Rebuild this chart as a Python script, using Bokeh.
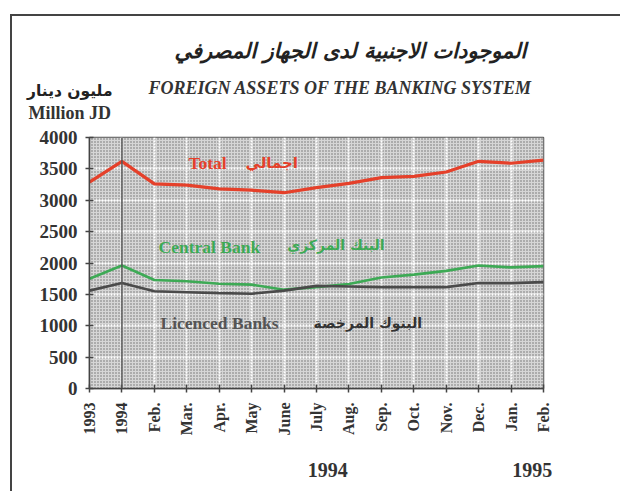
import math
from bokeh.plotting import figure
from bokeh.models import Range1d, FixedTicker, Label, Span, LinearAxis, Spacer
from bokeh.layouts import column, row
from bokeh.core.properties import value
from bokeh.embed import file_html
from bokeh.resources import INLINE

months = ["1993", "1994", "Feb.", "Mar.", "Apr.", "May", "June", "July",
          "Aug.", "Sep.", "Oct.", "Nov.", "Dec.", "Jan.", "Feb."]
total = [3290, 3620, 3260, 3240, 3180, 3160, 3120, 3200, 3270, 3360, 3380, 3450, 3620, 3590, 3640]
central_bank = [1750, 1960, 1730, 1710, 1670, 1655, 1575, 1615, 1665, 1770, 1815, 1875, 1960, 1930, 1950]
licenced_banks = [1560, 1680, 1550, 1535, 1520, 1510, 1560, 1635, 1625, 1615, 1615, 1615, 1680, 1680, 1695]
y_ticks = [0, 500, 1000, 1500, 2000, 2500, 3000, 3500, 4000]
year_labels = {7.35: "1994", 13.65: "1995"}

x = list(range(len(months)))
serif = "Liberation Serif"
arabic = "DejaVu Sans"
dark = "#444444"

# ---------- header figure (titles) ----------
top = figure(width=600, height=112, output_backend="svg", toolbar_location=None,
             x_range=Range1d(0, 600), y_range=Range1d(112, 0),
             x_axis_type=None, y_axis_type=None,
             min_border_left=0, min_border_right=0, min_border_top=0, min_border_bottom=0)
top.xgrid.visible = False
top.ygrid.visible = False
top.outline_line_color = None

def htext(xv, yv, text, size, color, align, style, font):
    top.text(x=[xv], y=[yv], text=[text], text_font=value(font), text_font_size=size,
             text_color=color, text_align=align, text_baseline="middle",
             text_font_style=style)

htext(338, 34, "الموجودات الاجنبية لدى الجهاز المصرفي", "21px", "#222", "center", "bold italic", arabic)
htext(136, 71, "FOREIGN ASSETS OF THE BANKING SYSTEM", "18px", "#333", "left", "bold italic", serif)
htext(100, 74, "مليون دينار", "15.5px", "#222", "right", "bold", arabic)
htext(16, 96, "Million JD", "18px", "#333", "left", "bold", serif)

# ---------- main chart ----------
p = figure(width=600, height=363, output_backend="svg", toolbar_location=None,
           x_range=Range1d(0, len(months) - 1), y_range=Range1d(0, 4000),
           min_border_left=77, min_border_right=69, min_border_top=9, min_border_bottom=103)
p.outline_line_color = "#555"
p.outline_line_width = 1.5
p.background_fill_color = "#bdbdbd"
p.border_fill_color = "white"

# stipple background
p.quad(left=[0], right=[len(months) - 1], bottom=[0], top=[4000], fill_color="#d6d6d6",
       line_color=None, hatch_pattern="dot", hatch_color="#6e6e6e", hatch_scale=3,
       hatch_weight=1.3, level="image")

for g in (p.xgrid, p.ygrid):
    g.grid_line_color = "white"
    g.grid_line_width = 2
    g.grid_line_dash = "2 1"
p.xgrid.ticker = FixedTicker(ticks=x)
p.ygrid.ticker = FixedTicker(ticks=y_ticks)

p.add_layout(Span(location=1, dimension="height", line_color="#555", line_width=1.5))

p.line(x, total, line_color="#e5402a", line_width=3.2)
p.line(x, central_bank, line_color="#3daa55", line_width=2.6)
p.line(x, licenced_banks, line_color="#4a4a4a", line_width=2.6)

p.xaxis.ticker = FixedTicker(ticks=x)
p.xaxis.major_label_overrides = {i: m for i, m in enumerate(months)}
p.xaxis.major_label_orientation = math.pi / 2
p.yaxis.ticker = FixedTicker(ticks=y_ticks)
for ax in (p.xaxis[0], p.yaxis[0]):
    ax.axis_line_color = dark
    ax.axis_line_width = 1.5
    ax.major_tick_line_color = dark
    ax.major_tick_line_width = 1.5
    ax.major_tick_in = 4
    ax.major_tick_out = 4
    ax.minor_tick_line_color = None
    ax.major_label_text_font = serif
    ax.major_label_text_font_style = "bold"
    ax.major_label_text_color = "#333"
p.xaxis.major_label_text_font_size = "16px"
p.xaxis.major_label_standoff = 10
p.yaxis.major_label_text_font_size = "19px"
p.yaxis.major_label_standoff = 8

# year axis below the month labels
year_axis = LinearAxis(ticker=FixedTicker(ticks=list(year_labels.keys())),
                       major_label_overrides=year_labels)
year_axis.axis_line_color = None
year_axis.major_tick_line_color = None
year_axis.minor_tick_line_color = None
year_axis.major_tick_out = 0
year_axis.major_tick_in = 0
year_axis.major_label_standoff = 24
year_axis.major_label_text_font = serif
year_axis.major_label_text_font_style = "bold"
year_axis.major_label_text_font_size = "20px"
year_axis.major_label_text_color = "#333"
p.add_layout(year_axis, "below")

def lab(xv, yv, text, size, color, font=serif):
    p.add_layout(Label(x=xv, y=yv, text=text, text_font=font, text_font_size=size,
                       text_color=color, text_align="left", text_baseline="middle",
                       text_font_style="bold"))

lab(3.05, 3590, "Total", "17.5px", "#e5402a")
lab(4.81, 3590, "اجمالي", "15px", "#e5402a", arabic)
lab(2.13, 2250, "Central Bank", "17.5px", "#3daa55")
lab(6.1, 2280, "البنك المركزي", "14px", "#3daa55", arabic)
lab(2.19, 1036, "Licenced Banks", "17.5px", "#555")
lab(6.91, 1036, "البنوك المرخصة", "14px", "#333", arabic)

# frame lines (left and top) around the whole exhibit
header = column(Spacer(width=620, height=14),
                row(Spacer(width=10, height=114),
                    Spacer(width=2, height=114, styles={"background-color": dark}),
                    column(Spacer(width=608, height=2, styles={"background-color": dark}), top)))
body = row(Spacer(width=10, height=363),
           Spacer(width=2, height=363, styles={"background-color": dark}),
           p)

open("out.html", "w").write(file_html([header, body], INLINE))
